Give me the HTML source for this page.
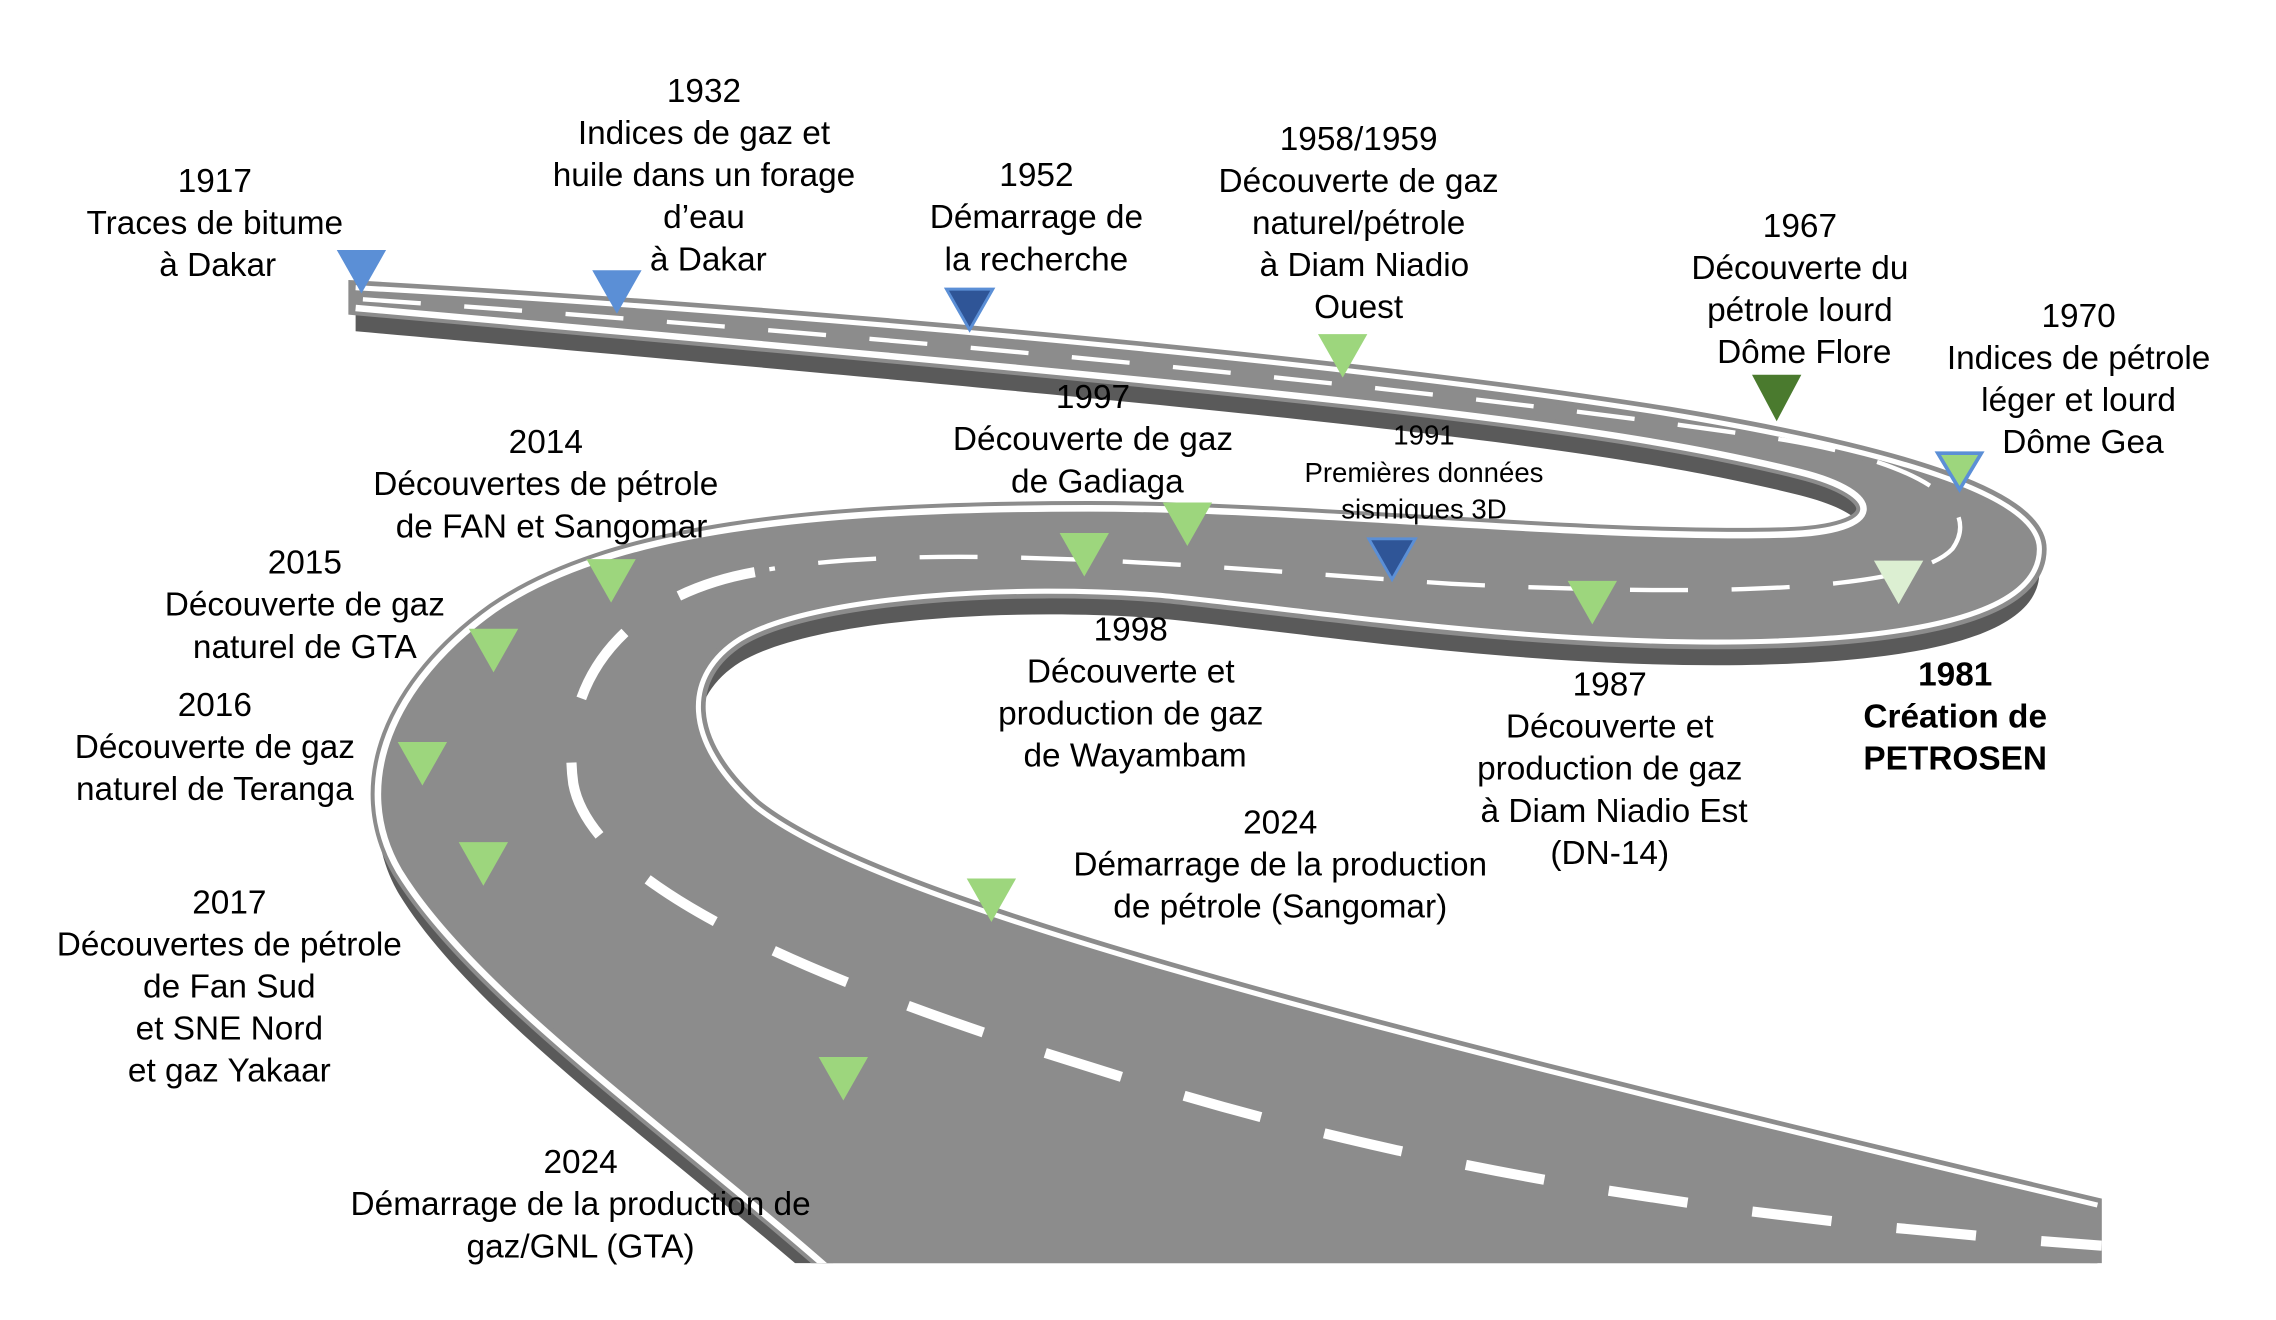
<!DOCTYPE html>
<html><head><meta charset="utf-8"><style>
html,body{margin:0;padding:0;background:#fff;}
svg{display:block;}
text{font-family:"Liberation Sans",sans-serif;font-size:23px;fill:#000;text-anchor:middle;}
</style></head><body>
<svg width="2276" height="1320" viewBox="0 0 1568 909" xmlns="http://www.w3.org/2000/svg">
<defs>
<clipPath id="c"><rect x="0" y="0" width="1448" height="870"/></clipPath>
</defs>
<g clip-path="url(#c)">
<!-- side thickness -->
<path transform="translate(0,16)" fill="#5a5a5a" d="M245,198 C500,212 900,245 1150,285 C1300,310 1405,340 1405,378 C1405,420 1330,440 1200,442 C1050,444 900,420 800,410 C700,402 560,410 510,440 C470,465 470,510 520,555 C600,620 900,700 1445,830 L1445,900 L600,900 C480,790 330,690 275,600 C240,540 270,470 340,420 C420,365 560,350 750,350 C900,350 1100,372 1230,368 C1300,366 1300,340 1240,325 C1100,290 900,270 245,212 Z"/>
<path fill="#8c8c8c" stroke="#8c8c8c" stroke-width="10" d="M245,198 C500,212 900,245 1150,285 C1300,310 1405,340 1405,378 C1405,420 1330,440 1200,442 C1050,444 900,420 800,410 C700,402 560,410 510,440 C470,465 470,510 520,555 C600,620 900,700 1445,830 L1445,900 L600,900 C480,790 330,690 275,600 C240,540 270,470 340,420 C420,365 560,350 750,350 C900,350 1100,372 1230,368 C1300,366 1300,340 1240,325 C1100,290 900,270 245,212 Z"/>
<path fill="none" stroke="#fff" stroke-width="3.5" d="M245,198 C500,212 900,245 1150,285 C1300,310 1405,340 1405,378 C1405,420 1330,440 1200,442 C1050,444 900,420 800,410 C700,402 560,410 510,440 C470,465 470,510 520,555 C600,620 900,700 1445,830"/>
<path fill="none" stroke="#fff" stroke-width="4.5" d="M600,900 C480,790 330,690 275,600 C240,540 270,470 340,420 C420,365 560,350 750,350 C900,350 1100,372 1230,368 C1300,366 1300,340 1240,325 C1100,290 900,270 245,212"/>
<!-- center dashed -->
<path fill="none" stroke="#fff" stroke-width="3" stroke-dasharray="40,30" d="M250,206 C600,230 1000,268 1230,303 C1330,320 1365,350 1345,378 C1320,405 1200,412 1000,402 C850,392 650,372 530,392"/>
<path fill="none" stroke="#fff" stroke-width="7" stroke-dasharray="55,45" d="M520,394 C430,410 385,470 395,540 C410,620 600,690 800,750 C1000,810 1200,840 1448,858"/>
</g>
<!-- triangles -->
<g stroke-linejoin="miter">
<polygon points="232,172 266,172 249,202" fill="#5b8fd6"/>
<polygon points="408,186 442,186 425,216" fill="#5b8fd6"/>
<polygon points="652,199 684,199 668,227" fill="#2f5597" stroke="#5b8fd6" stroke-width="2"/>
<polygon points="908,230 942,230 925,260" fill="#9dd67d"/>
<polygon points="1207,258 1241,258 1224,290" fill="#4a7a2e"/>
<polygon points="1335,312 1365,312 1350,337" fill="#9dd67d" stroke="#5b8fd6" stroke-width="2.5"/>
<polygon points="1291,386 1325,386 1308,416" fill="#dcefd2"/>
<polygon points="1080,400 1114,400 1097,430" fill="#9dd67d"/>
<polygon points="943,371 975,371 959,399" fill="#2f5597" stroke="#5b8fd6" stroke-width="2"/>
<polygon points="801,346 835,346 818,376" fill="#9dd67d"/>
<polygon points="730,367 764,367 747,397" fill="#9dd67d"/>
<polygon points="404,385 438,385 421,415" fill="#9dd67d"/>
<polygon points="323,433 357,433 340,463" fill="#9dd67d"/>
<polygon points="274,511 308,511 291,541" fill="#9dd67d"/>
<polygon points="316,580 350,580 333,610" fill="#9dd67d"/>
<polygon points="666,605 700,605 683,635" fill="#9dd67d"/>
<polygon points="564,728 598,728 581,758" fill="#9dd67d"/>
</g>
<!-- labels -->
<text x="148" y="132">1917</text><text x="148" y="161">Traces de bitume</text><text x="150" y="190">à Dakar</text>
<text x="485" y="70">1932</text><text x="485" y="99">Indices de gaz et</text><text x="485" y="128">huile dans un forage</text><text x="485" y="157">d’eau</text><text x="488" y="186">à Dakar</text>
<text x="714" y="128">1952</text><text x="714" y="157">Démarrage de</text><text x="714" y="186">la recherche</text>
<text x="936" y="103">1958/1959</text><text x="936" y="132">Découverte de gaz</text><text x="936" y="161">naturel/pétrole</text><text x="940" y="190">à Diam Niadio</text><text x="936" y="219">Ouest</text>
<text x="1240" y="163">1967</text><text x="1240" y="192">Découverte du</text><text x="1240" y="221">pétrole lourd</text><text x="1243" y="250">Dôme Flore</text>
<text x="1432" y="225">1970</text><text x="1432" y="254">Indices de pétrole</text><text x="1432" y="283">léger et lourd</text><text x="1435" y="312">Dôme Gea</text>
<text x="1347" y="472" font-weight="bold">1981</text><text x="1347" y="501" font-weight="bold">Création de</text><text x="1347" y="530" font-weight="bold">PETROSEN</text>
<text x="1109" y="479">1987</text><text x="1109" y="508">Découverte et</text><text x="1109" y="537">production de gaz</text><text x="1112" y="566">à Diam Niadio Est</text><text x="1109" y="595">(DN-14)</text>
<text x="981" y="306" style="font-size:19px">1991</text><text x="981" y="332" style="font-size:19px">Premières données</text><text x="981" y="357" style="font-size:19px">sismiques 3D</text>
<text x="753" y="281">1997</text><text x="753" y="310">Découverte de gaz</text><text x="756" y="339">de Gadiaga</text>
<text x="779" y="441">1998</text><text x="779" y="470">Découverte et</text><text x="779" y="499">production de gaz</text><text x="782" y="528">de Wayambam</text>
<text x="376" y="312">2014</text><text x="376" y="341">Découvertes de pétrole</text><text x="380" y="370">de FAN et Sangomar</text>
<text x="210" y="395">2015</text><text x="210" y="424">Découverte de gaz</text><text x="210" y="453">naturel de GTA</text>
<text x="148" y="493">2016</text><text x="148" y="522">Découverte de gaz</text><text x="148" y="551">naturel de Teranga</text>
<text x="158" y="629">2017</text><text x="158" y="658">Découvertes de pétrole</text><text x="158" y="687">de Fan Sud</text><text x="158" y="716">et SNE Nord</text><text x="158" y="745">et gaz Yakaar</text>
<text x="882" y="574">2024</text><text x="882" y="603">Démarrage de la production</text><text x="882" y="632">de pétrole (Sangomar)</text>
<text x="400" y="808">2024</text><text x="400" y="837">Démarrage de la production de</text><text x="400" y="866">gaz/GNL (GTA)</text>
</svg>
</body></html>
